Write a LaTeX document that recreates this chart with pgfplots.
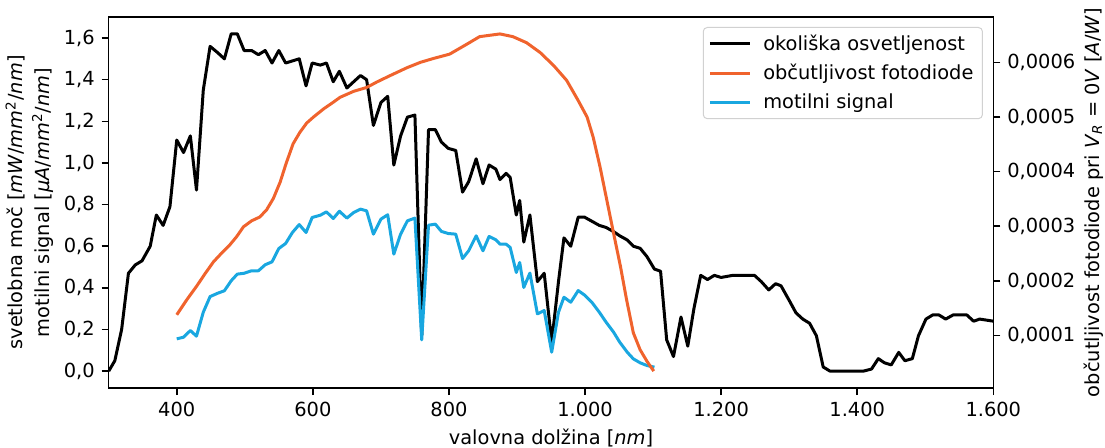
\documentclass[border=0pt]{standalone}
\usepackage{pgfplots}
\pgfplotsset{compat=1.18}
\usepackage{fontspec}
\setmainfont{DejaVu Sans}

\definecolor{sunorange}{RGB}{240,99,45}
\definecolor{sigblue}{RGB}{25,167,224}

% ambient spectral irradiance [mW/mm^2/nm]
\pgfplotstableread{
nm val
300 0.00
309 0.05
319 0.20
329 0.47
339 0.51
349 0.53
361 0.60
370 0.75
380 0.70
390 0.79
400 1.11
410 1.05
420 1.13
429 0.87
439 1.35
449 1.56
460 1.53
470 1.50
480 1.62
489 1.62
499 1.54
510 1.54
520 1.52
530 1.54
540 1.48
550 1.54
560 1.48
570 1.49
580 1.50
590 1.37
599 1.48
611 1.47
620 1.48
630 1.39
639 1.44
650 1.36
660 1.39
670 1.42
679 1.40
689 1.18
700 1.29
710 1.32
719 0.99
729 1.13
739 1.22
750 1.23
760 0.17
770 1.16
780 1.16
789 1.10
799 1.07
810 1.06
820 0.86
829 0.91
840 1.02
850 0.90
859 0.99
869 0.97
875 0.92
884 0.95
890 0.93
899 0.75
904 0.82
910 0.62
919 0.75
930 0.43
940 0.47
951 0.14
961 0.43
969 0.64
979 0.60
990 0.74
999 0.74
1010 0.72
1021 0.70
1031 0.69
1042 0.67
1051 0.65
1062 0.63
1071 0.60
1081 0.59
1091 0.55
1102 0.49
1111 0.48
1120 0.15
1130 0.07
1141 0.26
1151 0.12
1160 0.30
1170 0.46
1180 0.44
1190 0.46
1200 0.45
1217 0.46
1237 0.46
1249 0.46
1259 0.43
1270 0.39
1280 0.42
1288 0.41
1300 0.34
1310 0.28
1320 0.25
1330 0.23
1340 0.17
1350 0.02
1360 0.00
1409 0.00
1421 0.01
1431 0.06
1440 0.04
1450 0.03
1461 0.09
1470 0.05
1481 0.06
1490 0.17
1501 0.25
1511 0.27
1520 0.27
1530 0.25
1541 0.27
1552 0.27
1561 0.27
1571 0.24
1580 0.25
1600 0.24
}\ambient

% photocurrent signal [uA/mm^2/nm]
\pgfplotstableread{
nm val
400 0.155
410 0.163
420 0.195
429 0.168
439 0.283
449 0.358
460 0.374
470 0.386
480 0.434
489 0.466
499 0.470
510 0.482
520 0.482
530 0.511
540 0.525
550 0.589
560 0.613
570 0.666
580 0.704
590 0.666
599 0.738
611 0.749
620 0.765
630 0.733
639 0.768
650 0.735
660 0.762
670 0.778
679 0.770
689 0.658
700 0.730
710 0.751
719 0.562
729 0.658
739 0.722
750 0.735
760 0.150
770 0.701
780 0.706
789 0.671
799 0.661
810 0.658
820 0.541
829 0.578
840 0.650
850 0.578
859 0.647
869 0.631
875 0.610
884 0.610
890 0.594
899 0.474
904 0.522
910 0.402
919 0.471
930 0.275
940 0.291
951 0.091
961 0.283
969 0.355
979 0.331
990 0.387
999 0.366
1010 0.331
1021 0.283
1031 0.235
1042 0.187
1051 0.139
1062 0.091
1071 0.059
1081 0.040
1091 0.027
1102 0.019
}\signal

% photodiode responsivity at V_R = 0 V [A/W]
\pgfplotstableread{
nm val
400 0.000138
415 0.000166
429 0.000190
442 0.000214
454 0.000235
466 0.000251
478 0.000266
488 0.000281
498 0.000299
510 0.000310
522 0.000317
532 0.000330
542 0.000351
552 0.000381
561 0.000416
571 0.000451
581 0.000472
591 0.000489
601 0.000500
616 0.000515
630 0.000527
640 0.000536
660 0.000547
679 0.000554
694 0.000564
714 0.000576
738 0.000590
758 0.000600
777 0.000607
801 0.000615
826 0.000633
845 0.000647
875 0.000652
894 0.000647
914 0.000636
934 0.000618
954 0.000594
973 0.000567
990 0.000530
1003 0.000500
1012 0.000463
1022 0.000409
1032 0.000348
1042 0.000287
1052 0.000227
1061 0.000166
1071 0.000105
1081 0.000074
1091 0.000053
1101 0.000035
}\response

\newcommand{\lblfont}{\fontsize{9.7}{11.6}\selectfont}

\pgfplotsset{
  base/.style={
    scale only axis,
    width=442.3pt, height=185.5pt,
    xmin=300, xmax=1600,
    tick align=outside,
    major tick length=3.5pt,
    axis line style={line width=0.8pt},
    every tick/.style={black, line width=0.8pt},
    tick label style={font=\lblfont},
    /pgf/number format/assume math mode=true,
  },
}

\begin{document}
\begin{tikzpicture}
\begin{axis}[
  base,
  name=ax,
  ymin=-0.081, ymax=1.701,
  xtick={400,600,...,1600},
  ytick={0,0.2,...,1.61},
  xtick pos=bottom, ytick pos=left,
  xticklabel style={/pgf/number format/.cd, use comma, 1000 sep={.}},
  yticklabel style={/pgf/number format/.cd, use comma, fixed, fixed zerofill, precision=1},
  xlabel={valovna dolžina [\textit{nm}]},
  xlabel style={at={(axis description cs:0.5,0)}, anchor=north, inner sep=0pt, yshift=-20.5pt, font=\lblfont},
  ylabel={svetlobna moč [\textit{mW}/\textit{mm}\textsuperscript{2}/\textit{nm}]\\motilni signal [\textit{μA}/\textit{mm}\textsuperscript{2}/\textit{nm}]},
  ylabel style={at={(axis description cs:0,0.5)}, anchor=south, inner sep=0pt, align=center, yshift=27.4pt, font=\fontsize{9.7}{13.3}\selectfont},
]
\addplot[black, line width=1.5pt, line join=round] table[x=nm, y=val] {\ambient};
\addplot[sigblue, line width=1.5pt, line join=round] table[x=nm, y=val] {\signal};
\end{axis}

\begin{axis}[
  base,
  ymin=0.0000041, ymax=0.000683,
  axis x line=none,
  axis y line*=right,
  ytick={0.0001,0.0002,...,0.00061},
  scaled y ticks=false,
  yticklabel style={/pgf/number format/.cd, use comma, fixed, fixed zerofill, precision=4},
  ylabel={občutljivost fotodiode pri \textit{V}\textsubscript{\textit{R}} = 0\textit{V} [\textit{A}/\textit{W}]},
  ylabel style={at={(axis description cs:1,0.5)}, anchor=north, inner sep=0pt, yshift=-44.9pt, font=\lblfont},
  legend cell align=left,
  legend image code/.code={\draw[#1, line width=1.5pt] (0pt,0pt) -- (20pt,0pt);},
  legend style={
    at={(1,1)}, anchor=north east, xshift=-5.2pt, yshift=-5pt,
    draw=black!18, line width=0.5pt, rounded corners=2pt,
    fill=white, fill opacity=0.8, text opacity=1,
    font=\lblfont,
    inner xsep=2.5pt, inner ysep=1.5pt,
    row sep=1.6pt, column sep=4pt,
  },
]
\addlegendimage{black}
\addlegendentry{okoliška osvetljenost}
\addplot[sunorange, line width=1.5pt, line join=round] table[x=nm, y=val] {\response};
\addlegendentry{občutljivost fotodiode}
\addlegendimage{sigblue}
\addlegendentry{motilni signal}
\end{axis}

\pgfresetboundingbox
\useasboundingbox ([shift={(-54.35pt,-30pt)}]ax.south west) rectangle ([shift={(55.85pt,8.5pt)}]ax.north east);
\end{tikzpicture}
\end{document}
